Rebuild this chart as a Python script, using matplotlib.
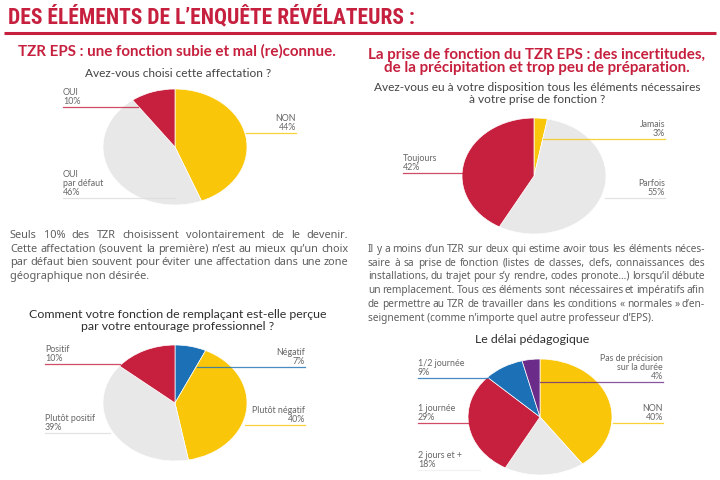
import matplotlib.pyplot as plt

RED = '#C6203E'
YELLOW = '#FAC609'
GRAY = '#E8E8E8'
BLUE = '#1C70B6'
PURPLE = '#6B2B88'
TXT = '#444444'
LAB = '#666666'

# ---------------------------------------------------------------------------
# Data (slices clockwise from 12 o'clock)
# ---------------------------------------------------------------------------
q1_labels = ['NON', 'OUI\npar défaut', 'OUI']
q1_values = [44, 46, 10]
q1_colors = [YELLOW, GRAY, RED]

q2_labels = ['Jamais', 'Parfois', 'Toujours']
q2_values = [3, 55, 42]
q2_colors = [YELLOW, GRAY, RED]

q3_labels = ['Négatif', 'Plutôt négatif', 'Plutôt positif', 'Positif']
q3_values = [7, 40, 39, 14]          # slice shares as drawn
q3_printed = [7, 40, 39, 10]         # percentages printed on the labels
q3_colors = [BLUE, YELLOW, GRAY, RED]

q4_labels = ['NON', '2 jours et +', '1 journée', '1/2 journée',
             'Pas de précision\nsur la durée']
q4_values = [40, 18, 29, 9, 4]
q4_colors = [YELLOW, GRAY, RED, BLUE, PURPLE]

para_left = [
    "Seuls 10% des TZR choisissent volontairement de le devenir.",
    "Cette affectation (souvent la première) n’est au mieux qu’un choix",
    "par défaut bien souvent pour éviter une affectation dans une zone",
    "géographique non désirée.",
]
para_right = [
    "Il y a moins d’un TZR sur deux qui estime avoir tous les éléments néces-",
    "saire à sa prise de fonction (listes de classes, clefs, connaissances des",
    "installations, du trajet pour s’y rendre, codes pronote…) lorsqu’il débute",
    "un remplacement. Tous ces éléments sont nécessaires et impératifs afin",
    "de permettre au TZR de travailler dans les conditions « normales » d’en-",
    "seignement (comme n’importe quel autre professeur d’EPS).",
]

BODY = 'Lato'
PARA = 'Noto Sans'

fig = plt.figure(figsize=(7.2, 4.8), dpi=100)
fig.patch.set_facecolor('white')


def pie_at(cx, cy, rx, ry, values, colors):
    pa = fig.add_axes([(cx - rx) / 720, 1 - (cy + ry) / 480, 2 * rx / 720, 2 * ry / 480])
    pa.pie(values, colors=colors, startangle=90, counterclock=False,
           wedgeprops=dict(edgecolor='white', linewidth=0.5))
    pa.set_aspect('auto')
    pa.set_xlim(-1, 1); pa.set_ylim(-1, 1)
    pa.axis('off')
    return pa


pie_at(175, 147, 72, 58, q1_values, q1_colors)
pie_at(534, 176, 72, 58, q2_values, q2_colors)
pie_at(175, 403, 72, 58, q3_values, q3_colors)
pie_at(540, 417, 72, 58, q4_values, q4_colors)

# overlay in pixel coordinates
ax = fig.add_axes([0, 0, 1, 1], zorder=5)
ax.set_xlim(0, 720); ax.set_ylim(480, 0)
ax.axis('off')
ax.patch.set_alpha(0)

ax.text(8, 23, "DES ÉLÉMENTS DE L’ENQUÊTE RÉVÉLATEURS :", fontsize=15.5,
        fontweight='bold', family=['Roboto Condensed', 'Liberation Sans Narrow', 'DejaVu Sans'],
        fontstretch='condensed', color=RED, va='baseline', ha='left')
ax.plot([4, 716], [33, 33], color=RED, lw=2.2, solid_capstyle='butt')

ax.text(177, 56, "TZR EPS : une fonction subie et mal (re)connue.", fontsize=10.9,
        fontweight='bold', family=BODY, color=RED, ha='center', va='baseline')
ax.text(537, 72, "La prise de fonction du TZR EPS : des incertitudes,\n"
        "de la précipitation et trop peu de préparation.", fontsize=10.9,
        fontweight='bold', family=BODY, color=RED, ha='center', va='baseline',
        linespacing=0.92)

qkw = dict(fontsize=8.6, family=BODY, color=TXT, ha='center', va='baseline')
ax.text(178, 77, "Avez-vous choisi cette affectation ?", **qkw)
ax.text(537, 103, "Avez-vous eu à votre disposition tous les éléments nécessaires\n"
        "à votre prise de fonction ?", linespacing=1.1, **qkw)
qkw.update(color='#2e2e2e', fontsize=8.9)
ax.text(178, 330, "Comment votre fonction de remplaçant est-elle perçue\n"
        "par votre entourage professionnel ?", linespacing=1.15, **qkw)
ax.text(532, 343, "Le délai pédagogique", **qkw)

renderer = fig.canvas.get_renderer()


def justify(lines, x0, x1, y0, dy, **kw):
    for i, line in enumerate(lines):
        y = y0 + i * dy
        if i == len(lines) - 1:
            ax.text(x0, y, line, ha='left', va='baseline', **kw)
            continue
        words = line.split(' ')
        widths = []
        for w in words:
            t = ax.text(0, 0, w, **kw)
            widths.append(t.get_window_extent(renderer).width)
            t.remove()
        gap = max((x1 - x0 - sum(widths)) / (len(words) - 1), 1.5)
        x = x0
        for w, wd in zip(words, widths):
            ax.text(x, y, w, ha='left', va='baseline', **kw)
            x += wd + gap


pkw = dict(family=PARA, fontweight='light', color='#5e5e5e')
justify(para_left, 10, 348, 238, 13.6, fontsize=7.9, **pkw)
justify(para_right, 368, 705, 252, 13.7, fontsize=7.3, **pkw)

# pie labels
lkw = dict(fontsize=6.4, family=BODY, color=LAB, va='baseline', linespacing=1.0)


def label(txt, x, y, ha, ly, lx0, lx1, col):
    ax.text(x, y, txt, ha=ha, **lkw)
    ax.plot([lx0, lx1], [ly, ly], color=col, lw=0.9, alpha=0.8)


# pie 1
label(f"{q1_labels[2]}\n{q1_values[2]}%", 63, 104, 'left', 107, 63, 138, RED)
label(f"{q1_labels[0]}\n{q1_values[0]}%", 296, 130, 'right', 133, 246, 296, YELLOW)
label(f"{q1_labels[1]}\n{q1_values[1]}%", 63, 195, 'left', 198, 63, 175, '#DDDDDD')
# pie 2
label(f"{q2_labels[0]}\n{q2_values[0]}%", 665, 136, 'right', 139, 543, 665, YELLOW)
label(f"{q2_labels[1]}\n{q2_values[1]}%", 665, 195, 'right', 198, 605, 665, '#DDDDDD')
label(f"{q2_labels[2]}\n{q2_values[2]}%", 403, 170, 'left', 173, 403, 462, RED)
# pie 3
label(f"{q3_labels[3]}\n{q3_printed[3]}%", 45, 361, 'left', 364, 45, 120, RED)
label(f"{q3_labels[0]}\n{q3_printed[0]}%", 305, 364, 'right', 367, 197, 305, BLUE)
label(f"{q3_labels[1]}\n{q3_printed[1]}%", 305, 422, 'right', 425, 245, 305, YELLOW)
label(f"{q3_labels[2]}\n{q3_printed[2]}%", 45, 430, 'left', 433, 45, 110, '#DDDDDD')
# pie 4
label(f"{q4_labels[3]}\n{q4_values[3]}%", 418, 375, 'left', 378, 418, 488, BLUE)
label(f"{q4_labels[4]}\n{q4_values[4]}%", 663, 379, 'right', 382, 540, 663, PURPLE)
label(f"{q4_labels[2]}\n{q4_values[2]}%", 418, 420, 'left', 423, 418, 470, RED)
label(f"{q4_labels[0]}\n{q4_values[0]}%", 663, 420, 'right', 423, 613, 663, YELLOW)
label(f"{q4_labels[1]}\n{q4_values[1]}%", 418, 467, 'left', 470, 418, 480, '#EEEEEE')

fig.savefig('out.png', dpi=100, facecolor='white')
